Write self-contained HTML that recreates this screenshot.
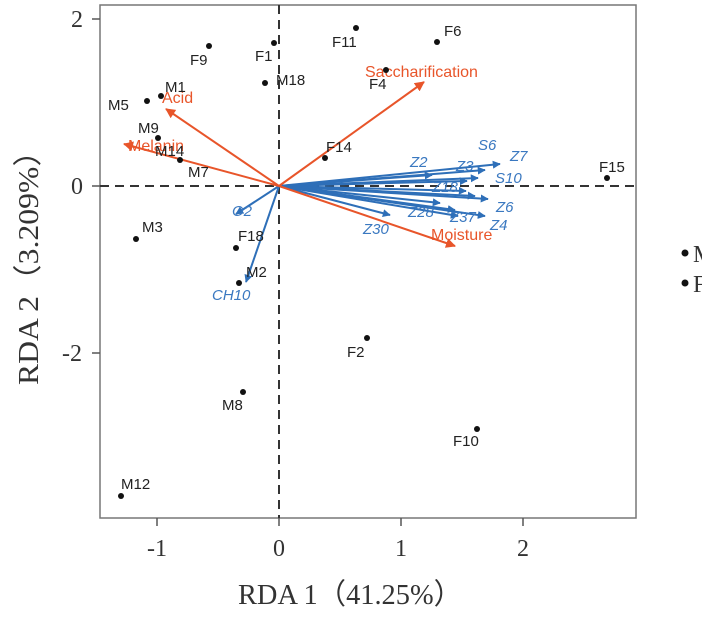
<!DOCTYPE html>
<html><head><style>body{margin:0;background:#fff}svg{display:block}</style></head><body>
<svg width="702" height="619" xmlns="http://www.w3.org/2000/svg">
<defs>
<marker id="ao" viewBox="0 0 10 10" refX="9" refY="5" markerWidth="5" markerHeight="5" orient="auto"><path d="M0,0L10,5L0,10z" fill="#e8552a"/></marker>
<marker id="ab" viewBox="0 0 10 10" refX="9" refY="5" markerWidth="4" markerHeight="4" orient="auto"><path d="M0,0L10,5L0,10z" fill="#2e6fb8"/></marker>
</defs>
<rect x="100" y="5" width="536" height="513" fill="none" stroke="#777" stroke-width="1.5"/>
<g stroke="#333" stroke-width="2" stroke-dasharray="9,6">
<line x1="279" y1="5" x2="279" y2="518"/><line x1="100" y1="186" x2="636" y2="186"/></g>
<g stroke="#555" stroke-width="1.5">
<line x1="157" y1="518" x2="157" y2="526"/><line x1="279" y1="518" x2="279" y2="526"/><line x1="401" y1="518" x2="401" y2="526"/><line x1="523" y1="518" x2="523" y2="526"/>
<line x1="92" y1="19" x2="100" y2="19"/><line x1="92" y1="186" x2="100" y2="186"/><line x1="92" y1="353" x2="100" y2="353"/></g>
<g font-family="Liberation Serif,serif" font-size="24" fill="#333" text-anchor="middle">
<text x="157" y="556">-1</text><text x="279" y="556">0</text><text x="401" y="556">1</text><text x="523" y="556">2</text>
<text x="77" y="27">2</text><text x="77" y="194">0</text><text x="72" y="361">-2</text>
<text x="350" y="604" font-size="29" textLength="224" lengthAdjust="spacingAndGlyphs">RDA 1（41.25%）</text>
<text transform="translate(38,260) rotate(-90)" font-size="29" textLength="250" lengthAdjust="spacingAndGlyphs">RDA 2（3.209%）</text>
<text x="693" y="262" text-anchor="start" font-size="24">M</text>
<text x="693" y="292" text-anchor="start" font-size="24">F</text>
</g>
<circle cx="685" cy="253" r="3.5" fill="#111"/><circle cx="685" cy="283" r="3.5" fill="#111"/>
<g stroke="#2e6fb8" stroke-width="2" marker-end="url(#ab)">
<line x1="279" y1="186" x2="500" y2="164"/><line x1="279" y1="186" x2="485" y2="170"/><line x1="279" y1="186" x2="478" y2="178"/>
<line x1="279" y1="186" x2="467" y2="181"/><line x1="279" y1="186" x2="466" y2="191"/><line x1="279" y1="186" x2="475" y2="196"/>
<line x1="279" y1="186" x2="488" y2="199"/><line x1="279" y1="186" x2="485" y2="216"/><line x1="279" y1="186" x2="458" y2="216"/>
<line x1="279" y1="186" x2="440" y2="203"/><line x1="279" y1="186" x2="455" y2="210"/><line x1="279" y1="186" x2="390" y2="215"/>
<line x1="279" y1="186" x2="432" y2="175"/><line x1="279" y1="186" x2="236" y2="214"/><line x1="279" y1="186" x2="246" y2="282"/>
</g>
<g stroke="#e8552a" stroke-width="2" marker-end="url(#ao)">
<line x1="279" y1="186" x2="424" y2="82"/><line x1="279" y1="186" x2="166" y2="109"/>
<line x1="279" y1="186" x2="124" y2="144"/><line x1="279" y1="186" x2="455" y2="246"/></g>
<g font-family="Liberation Sans,sans-serif" font-size="15" fill="#3a78c0" font-style="italic">
<text x="478" y="150">S6</text><text x="510" y="161">Z7</text><text x="495" y="183">S10</text><text x="410" y="167">Z2</text>
<text x="456" y="171">Z3</text><text x="432" y="192">Z18</text><text x="496" y="212">Z6</text><text x="408" y="217">Z28</text>
<text x="450" y="222">Z37</text><text x="490" y="230">Z4</text><text x="363" y="234">Z30</text>
<text x="232" y="216">O2</text><text x="212" y="300">CH10</text></g>
<g font-family="Liberation Sans,sans-serif" font-size="16" fill="#e8552a">
<text x="365" y="77">Saccharification</text><text x="162" y="103">Acid</text><text x="128" y="151">Melanin</text><text x="431" y="240">Moisture</text></g>
<g fill="#111">
<circle cx="356" cy="28" r="3"/><circle cx="437" cy="42" r="3"/><circle cx="209" cy="46" r="3"/><circle cx="274" cy="43" r="3"/>
<circle cx="265" cy="83" r="3"/><circle cx="386" cy="70" r="3"/><circle cx="161" cy="96" r="3"/><circle cx="147" cy="101" r="3"/>
<circle cx="158" cy="138" r="3"/><circle cx="180" cy="160" r="3"/><circle cx="325" cy="158" r="3"/><circle cx="607" cy="178" r="3"/>
<circle cx="136" cy="239" r="3"/><circle cx="236" cy="248" r="3"/><circle cx="239" cy="283" r="3"/><circle cx="367" cy="338" r="3"/>
<circle cx="243" cy="392" r="3"/><circle cx="477" cy="429" r="3"/><circle cx="121" cy="496" r="3"/></g>
<g font-family="Liberation Sans,sans-serif" font-size="15" fill="#222">
<text x="332" y="47">F11</text><text x="444" y="36">F6</text><text x="190" y="65">F9</text><text x="255" y="61">F1</text>
<text x="276" y="85">M18</text><text x="369" y="89">F4</text><text x="165" y="92">M1</text><text x="108" y="110">M5</text>
<text x="138" y="133">M9</text><text x="155" y="156">M14</text><text x="188" y="177">M7</text><text x="326" y="152">F14</text>
<text x="599" y="172">F15</text><text x="142" y="232">M3</text><text x="238" y="241">F18</text><text x="246" y="277">M2</text>
<text x="347" y="357">F2</text><text x="222" y="410">M8</text><text x="453" y="446">F10</text><text x="121" y="489">M12</text></g>
</svg></body></html>
